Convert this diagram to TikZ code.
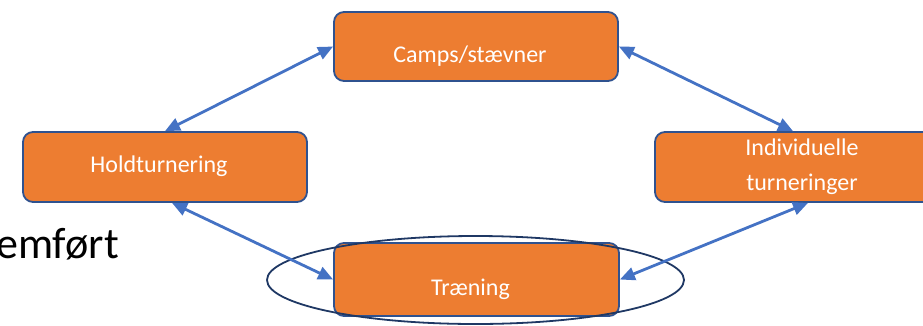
\documentclass[tikz,border=0pt]{standalone}
\usepackage{fontspec}
\setmainfont{Carlito}
\usetikzlibrary{arrows.meta,calc}
\definecolor{boxfill}{HTML}{ED7D31}
\definecolor{boxline}{HTML}{2F528F}
\definecolor{arrowblue}{HTML}{4472C4}
\definecolor{ringnavy}{HTML}{1F3864}
\newcommand{\lefttx}[1]{#1\hspace*{12pt}}
\tikzset{
  stepbox/.style={draw=boxline, line width=1.8pt, fill=boxfill, rounded corners=10pt,
    text=white, font=\fontsize{24}{35}\selectfont, align=center, inner sep=0pt,
    minimum width=284pt},
  link/.style={draw=arrowblue, line width=2.8pt,
    {Triangle[length=15pt,width=13pt]}-{Triangle[length=15pt,width=13pt]}},
}
\begin{document}
\begin{tikzpicture}[x=1pt,y=-1pt]
\useasboundingbox (0,0) rectangle (923,325);
\node[stepbox, minimum height=69pt, text height=31pt, text depth=0pt] (camps) at (476,46.5) {\lefttx{Camps/stævner}};
\node[stepbox, minimum height=70pt, text height=15pt, text depth=5pt] (hold) at (165,167) {\lefttx{Holdturnering}};
\node[stepbox, minimum height=70pt, minimum width=306pt] (ind) at (808,167) {\lefttx{Individuelle}\\\lefttx{turneringer}};
\node[stepbox, minimum height=73pt, minimum width=285pt, text height=32pt, text depth=0pt] (traening) at (476.5,279.5) {\lefttx{Træning}};
\draw[ringnavy, line width=1.8pt] (475.5,280) ellipse [x radius=208.5pt, y radius=44pt];
\node[anchor=base east, inner sep=0pt, font=\fontsize{44}{50}\selectfont, text=black] (emfort) at (119,258) {emført};
\draw[link] (camps.west) -- (hold.north);
\draw[link] ([xshift=7pt]hold.south) -- (traening.west);
\draw[link] (camps.east) -- ([xshift=-15pt]ind.north);
\draw[link] (ind.south) -- (traening.east);
\end{tikzpicture}
\end{document}
